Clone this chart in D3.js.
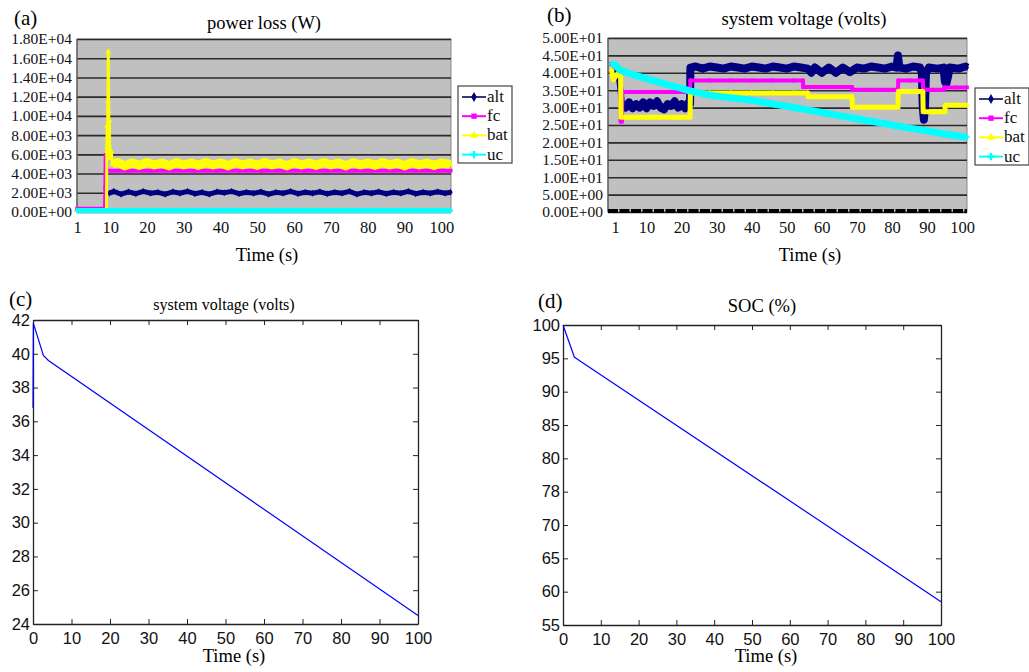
<!DOCTYPE html>
<html>
<head>
<meta charset="utf-8">
<script src="https://cdn.jsdelivr.net/npm/d3@7"></script>
<style>
  body { margin: 0; background: #fff; }
  svg { display: block; }
</style>
</head>
<body>
<script>
// ---- data ----
const seriesNames = ["alt", "fc", "bat", "uc"];
const seriesColors = ["#000080", "#ff00ff", "#ffff00", "#00ffff"];

const excelXTicks = [1, 10, 20, 30, 40, 50, 60, 70, 80, 90, 100];
const aYTicks = [0, 2000, 4000, 6000, 8000, 10000, 12000, 14000, 16000, 18000];
const bYTicks = [0, 5, 10, 15, 20, 25, 30, 35, 40, 45, 50];

// (a) power loss (W)
const aAlt = [[9.8,1950],[11,2150],[13,1850],[15,2100],[17,1900],[19,2150],[21,1950],[23,2050],[25,1850],
  [27,2100],[29,1950],[31,2150],[33,1900],[35,2050],[37,1850],[39,2100],[41,2000],[43,2150],[45,1900],
  [47,2050],[49,1950],[51,2100],[53,1850],[55,2050],[57,1950],[59,2150],[61,1900],[63,2050],[65,1950],
  [67,2100],[69,1900],[71,2050],[73,1950],[75,2150],[77,1850],[79,2050],[81,1950],[83,2100],[85,1900],
  [87,2050],[89,1950],[91,2150],[93,1900],[95,2050],[97,1950],[99,2100],[101,1950],[102.5,2050]];
const aFc = [[1,350],[8.6,350],[8.7,2500],[8.8,6000],[9,4300],[15,4300],[21,4300],[27,4300],[33,4300],
  [39,4300],[45,4300],[51,4300],[57,4300],[63,4300],[69,4300],[75,4300],[81,4300],[87,4300],[93,4300],
  [99,4300],[102.5,4300]];
const aBat = [[1,150],[9,150],[9.1,6300],[9.2,9000],[9.3,6800],[9.4,11500],[9.5,16700],[9.6,10500],
  [9.7,7000],[9.8,9500],[9.9,6200],[10,5600],[10.3,6300],[10.6,5000],[12,5150],[14,4800],[16,5100],
  [18,4850],[20,5150],[22,4900],[24,5100],[26,4800],[28,5150],[30,4900],[32,5100],[34,4850],[36,5150],
  [38,4900],[40,5100],[42,4800],[44,5150],[46,4900],[48,5100],[50,4850],[52,5150],[54,4900],[56,5100],
  [58,4800],[60,5150],[62,4900],[64,5100],[66,4850],[68,5150],[70,4900],[72,5100],[74,4800],[76,5150],
  [78,4900],[80,5100],[82,4850],[84,5150],[86,4900],[88,5100],[90,4800],[92,5150],[94,4900],[96,5100],
  [98,4850],[100,5100],[102.5,4950]];
const aUc = [[1,150],[5,150],[10,150],[15,150],[20,150],[25,150],[30,150],[35,150],[40,150],[45,150],
  [50,150],[55,150],[60,150],[65,150],[70,150],[75,150],[80,150],[85,150],[90,150],[95,150],[100,150],[102.5,150]];

// (b) system voltage (volts)
const bAlt = [[0,40],[1,41.5],[2,40],[3,31],[4,30],[5,31.5],[6,29.8],[7,31],[8,30],[9,31.5],[10,29.8],
  [11,31.5],[12,30.5],[13,31.8],[14,30],[15,29.5],[16,31],[17,30.5],[18,31.8],[19,30],[20,31],[21,29.8],
  [22,31.5],[22.4,31],[22.5,41.5],[24,41.8],[26,41.2],[28,41.8],[30,41.5],[32,41.2],[34,41.8],[36,41.5],
  [38,41.2],[40,41.8],[42,41.5],[44,41.2],[46,41.8],[48,41.5],[50,41.2],[52,41.8],[54,41.5],[56,41.2],
  [57,40],[58,41.5],[60,40],[62,41.5],[64,40],[66,41.5],[68,40.2],[70,41.5],[72,41.2],[74,41.8],
  [76,41.5],[78,41.2],[80,41.8],[81.3,41.5],[81.7,45],[82.1,41.5],[84,41.2],[86,41.8],[88,41.5],
  [88.5,40],[88.8,30],[89.1,26.5],[89.4,30],[89.7,40],[90.5,41.5],[93,41.2],[94.7,41.5],[95.1,37.5],
  [95.5,36.8],[96,39],[96.5,41.5],[99,41.2],[101,41.8],[101.4,41.5]];
const bFc = [[0,42.5],[1,41.5],[2.5,41],[2.6,26],[3,26],[3.1,34.5],[8,34.5],[13,34.5],[18,34.5],
  [22.4,34.5],[22.5,37.8],[28,37.8],[34,37.8],[40,37.8],[46,37.8],[52,37.8],[54.6,37.8],[54.7,35.9],
  [60,35.9],[65,35.9],[68.6,35.9],[68.7,35.1],[74,35.1],[78,35.1],[81.7,35.1],[81.8,37.8],[85,37.8],
  [88.8,37.8],[88.9,35.1],[92,35.1],[94.8,35.1],[94.9,35.8],[98,35.8],[101.4,35.8]];
const bBat = [[0,41],[0.5,38],[1.5,39.5],[2.6,39],[2.7,27.2],[7,27.2],[12,27.2],[17,27.2],[22.4,27.2],
  [22.5,34.2],[28,34.2],[34,34.2],[40,34.2],[46,34.2],[52,34.2],[56,34.2],[56.1,33.1],[60,33.1],
  [65,33.1],[68.6,33.1],[68.7,30.1],[72,30.1],[77,30.1],[81.7,30.1],[81.8,34.6],[85,34.6],[88.8,34.6],
  [88.9,28.8],[92,28.8],[95.1,28.8],[95.2,30.7],[98,30.7],[101.4,30.7]];
const bUc = [[0,42.6],[1,42.3],[2.4,40.8],[5,39.8],[10,38.3],[15,36.9],[20,35.5],[22.4,34.8],[26,34],
  [30,33.3],[35,32.7],[40,32.1],[45,31.2],[50,30.4],[55,29.5],[60,28.6],[65,27.7],[70,26.8],[75,25.9],
  [80,25],[85,24.1],[90,23.3],[95,22.4],[101.4,21.5]];

// (c) system voltage, (d) SOC
const matXTicks = [0, 10, 20, 30, 40, 50, 60, 70, 80, 90, 100];
const cYTicks = [24, 26, 28, 30, 32, 34, 36, 38, 40, 42];
const dYTicks = [55, 60, 65, 70, 75, 80, 85, 90, 95, 100];
const dYLabels = ["55", "60", "65", "70", "78", "80", "85", "90", "95", "100"];
const cVolt = [[0,36.8],[0.1,41.8],[2.7,39.9],[4,39.6],[100,24.5]];
const dSoc = [[0,100],[3,95.2],[4.5,94.6],[100,58.5]];

// ---- drawing ----
const serif = "'Liberation Serif', 'Times New Roman', serif";
const sans = "'Liberation Sans', Arial, sans-serif";

const svg = d3.select("body").append("svg")
    .attr("width", 1029)
    .attr("height", 672);

function sci(v) {
    if (v === 0) return "0.00E+00";
    const e = Math.floor(Math.log10(v) + 1e-9);
    const m = v / Math.pow(10, e);
    return m.toFixed(2) + "E" + (e >= 0 ? "+" : "-") + String(Math.abs(e)).padStart(2, "0");
}

const markers = [d3.symbolDiamond, d3.symbolSquare, d3.symbolTriangle, d3.symbolCross];

function excelPanel(p) {
    const g = svg.append("g");
    const x = d3.scaleLinear().domain(p.xDomain).range([p.left, p.right]);
    const y = d3.scaleLinear().domain(p.yDomain).range([p.bottom, p.top]);

    g.append("rect")
        .attr("x", p.left).attr("y", p.top)
        .attr("width", p.right - p.left).attr("height", p.bottom - p.top)
        .attr("fill", "#c0c0c0")
        .attr("stroke", "#888");

    // gridlines
    g.append("g")
        .attr("transform", `translate(${p.left},0)`)
        .call(d3.axisLeft(y).tickValues(p.yTicks).tickSize(-(p.right - p.left)).tickFormat(""))
        .call(g => g.select(".domain").remove())
        .call(g => g.selectAll("line").attr("stroke", "#2a2a2a").attr("stroke-width", 1.6));

    g.append("line")
        .attr("x1", p.left).attr("x2", p.left)
        .attr("y1", p.top).attr("y2", p.bottom)
        .attr("stroke", "#555").attr("stroke-width", 1.2);

    // y labels
    g.append("g")
        .attr("transform", `translate(${p.left},0)`)
        .call(d3.axisLeft(y).tickValues(p.yTicks).tickSize(0).tickPadding(5).tickFormat(sci))
        .call(g => g.select(".domain").remove())
        .call(g => g.selectAll("text").attr("font-family", serif).attr("font-size", 15.5).attr("fill", "#111"));

    // x labels
    g.append("g")
        .attr("transform", `translate(0,${p.bottom})`)
        .call(d3.axisBottom(x).tickValues(excelXTicks).tickSize(0).tickPadding(9))
        .call(g => g.select(".domain").remove())
        .call(g => g.selectAll("text").attr("font-family", serif).attr("font-size", 16.5).attr("fill", "#111"));

    if (p.zeroLine) {
        g.append("line")
            .attr("x1", p.left).attr("x2", p.right)
            .attr("y1", y(0) - 1).attr("y2", y(0) - 1)
            .attr("stroke", "#000").attr("stroke-width", 4)
            .attr("stroke-dasharray", "10 1.5");
    }

    const line = d3.line().x(d => x(d[0])).y(d => y(d[1]));

    p.series.forEach((s, i) => {
        g.append("path")
            .attr("fill", "none")
            .attr("stroke", seriesColors[i])
            .attr("stroke-width", p.widths[i])
            .attr("stroke-linejoin", "round")
            .attr("d", line(s));
        const band = p.bands[i];
        if (band) {
            g.append("path")
                .attr("fill", "none")
                .attr("stroke", seriesColors[i])
                .attr("stroke-width", band.width)
                .attr("stroke-linejoin", "round")
                .attr("d", line(s.filter(d => d[0] >= band.from)));
        }
        g.append("g").selectAll("path")
            .data(s)
            .join("path")
            .attr("transform", d => `translate(${x(d[0])},${y(d[1])})`)
            .attr("d", d3.symbol().type(markers[i]).size(p.markerSize))
            .attr("fill", seriesColors[i]);
    });

    // legend
    const lg = g.append("g").attr("transform", `translate(${p.legend[0]},${p.legend[1]})`);
    lg.append("rect")
        .attr("width", 54).attr("height", 77)
        .attr("fill", "#fff").attr("stroke", "#444").attr("stroke-width", 1.2);
    seriesNames.forEach((name, i) => {
        const ly = 11 + i * 19.2;
        lg.append("line")
            .attr("x1", 4).attr("x2", 28).attr("y1", ly).attr("y2", ly)
            .attr("stroke", i === 0 ? "#3b3b7a" : seriesColors[i]).attr("stroke-width", 2);
        lg.append("path")
            .attr("transform", `translate(16,${ly})`)
            .attr("d", d3.symbol().type(markers[i]).size(28))
            .attr("fill", seriesColors[i]);
        lg.append("text")
            .attr("x", 29).attr("y", ly + 5)
            .attr("font-family", serif).attr("font-size", 17).attr("fill", "#111")
            .text(name);
    });

    svg.append("text").attr("x", p.tagX).attr("y", p.tagY)
        .attr("font-family", serif).attr("font-size", 21).text(p.tag);
    svg.append("text").attr("x", p.titleX).attr("y", p.titleY)
        .attr("text-anchor", "middle")
        .attr("font-family", serif).attr("font-size", p.titleSize).text(p.title);
    svg.append("text").attr("x", p.xTitleX).attr("y", 261)
        .attr("text-anchor", "middle")
        .attr("font-family", serif).attr("font-size", 18.5).text("Time (s)");
}

function matlabPanel(p) {
    const g = svg.append("g");
    const x = d3.scaleLinear().domain([0, 100]).range([p.left, p.right]);
    const y = d3.scaleLinear().domain(p.yDomain).range([p.bottom, p.top]);
    const tick = 5;

    g.append("g").attr("transform", `translate(0,${p.bottom})`)
        .call(d3.axisBottom(x).tickValues(matXTicks).tickSize(-tick).tickPadding(8).tickSizeOuter(0));
    g.append("g").attr("transform", `translate(0,${p.top})`)
        .call(d3.axisTop(x).tickValues(matXTicks).tickSize(-tick).tickFormat("").tickSizeOuter(0));
    g.append("g").attr("transform", `translate(${p.left},0)`)
        .call(d3.axisLeft(y).tickValues(p.yTicks).tickSize(-tick).tickPadding(3).tickSizeOuter(0)
            .tickFormat((d, i) => p.yLabels[i]));
    g.append("g").attr("transform", `translate(${p.right},0)`)
        .call(d3.axisRight(y).tickValues(p.yTicks).tickSize(-tick).tickFormat("").tickSizeOuter(0));

    g.selectAll(".domain").attr("stroke", "#222").attr("stroke-width", 1.3);
    g.selectAll(".tick line").attr("stroke", "#222");
    g.selectAll(".tick text").attr("font-family", sans).attr("font-size", 16.5).attr("fill", "#111");

    g.append("path")
        .attr("fill", "none")
        .attr("stroke", "#0000ff")
        .attr("stroke-width", 1.2)
        .attr("d", d3.line().x(d => x(d[0])).y(d => y(d[1]))(p.data));

    svg.append("text").attr("x", p.tagX).attr("y", p.tagY)
        .attr("font-family", serif).attr("font-size", 21).text(p.tag);
    svg.append("text").attr("x", p.titleX).attr("y", p.titleY)
        .attr("text-anchor", "middle")
        .attr("font-family", serif).attr("font-size", p.titleSize).text(p.title);
    svg.append("text").attr("x", p.xTitleX).attr("y", 662)
        .attr("text-anchor", "middle")
        .attr("font-family", serif).attr("font-size", 18.5).text("Time (s)");
}

excelPanel({
    left: 77, right: 451, top: 39, bottom: 212,
    xDomain: [1, 102.6], yDomain: [0, 18000], yTicks: aYTicks,
    series: [aAlt, aFc, aBat, aUc], widths: [2, 4, 3, 5], markerSize: 14,
    bands: [{from: 9.8, width: 5}, null, {from: 10.6, width: 9}, null],
    legend: [458, 86],
    tag: "(a)", tagX: 14, tagY: 25,
    title: "power loss (W)", titleSize: 18.5, titleX: 264, titleY: 29, xTitleX: 267
});

excelPanel({
    left: 608, right: 967, top: 38, bottom: 212,
    xDomain: [-1, 101.4], yDomain: [0, 50], yTicks: bYTicks,
    series: [bAlt, bFc, bBat, bUc], widths: [6, 4, 5, 7], markerSize: 14,
    bands: [{from: 3, width: 8}, null, null, null],
    legend: [975, 88], zeroLine: true,
    tag: "(b)", tagX: 547, tagY: 22,
    title: "system voltage (volts)", titleSize: 18.7, titleX: 804, titleY: 25, xTitleX: 810
});

matlabPanel({
    left: 33, right: 418, top: 320, bottom: 624,
    yDomain: [24, 42], yTicks: cYTicks, yLabels: cYTicks.map(String),
    data: cVolt,
    tag: "(c)", tagX: 9, tagY: 306,
    title: "system voltage (volts)", titleSize: 16, titleX: 224, titleY: 310, xTitleX: 234
});

matlabPanel({
    left: 563, right: 941, top: 325, bottom: 625,
    yDomain: [55, 100], yTicks: dYTicks, yLabels: dYLabels,
    data: dSoc,
    tag: "(d)", tagX: 538, tagY: 308,
    title: "SOC (%)", titleSize: 18.5, titleX: 762, titleY: 312, xTitleX: 766
});
</script>
</body>
</html>
